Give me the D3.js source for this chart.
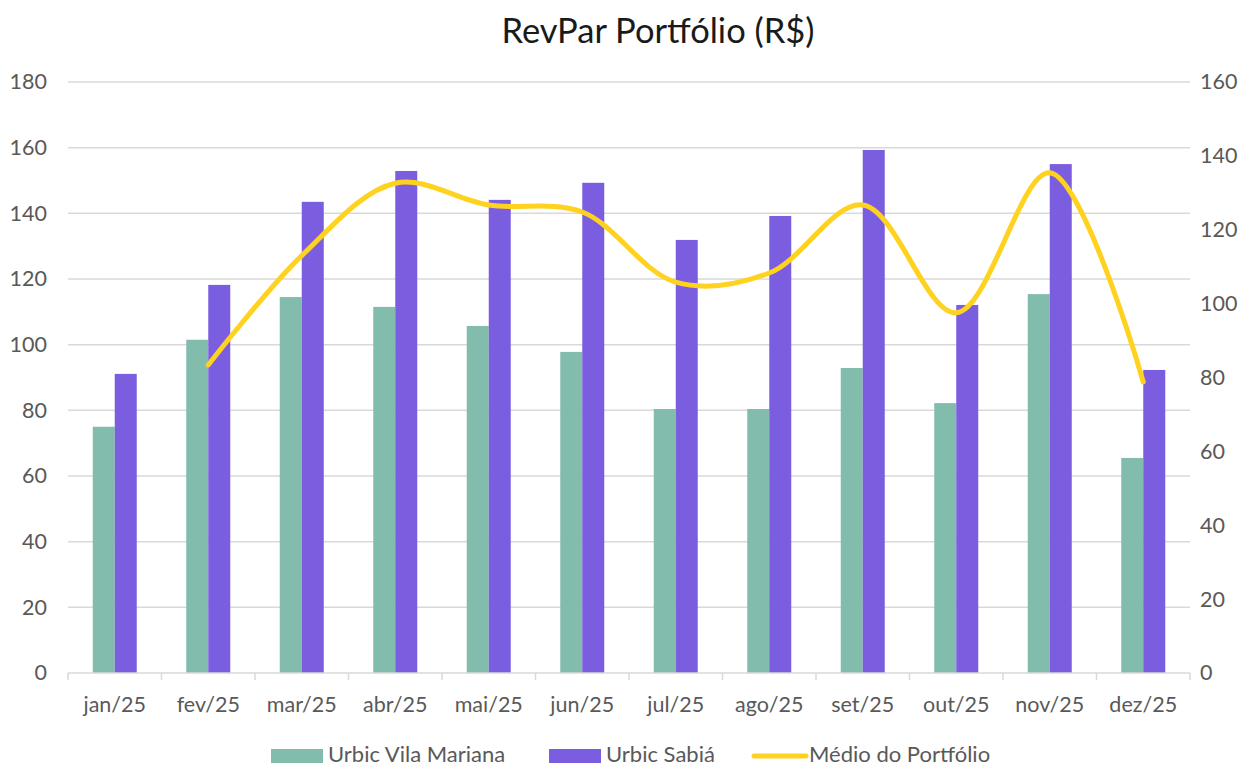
<!DOCTYPE html>
<html>
<head>
<meta charset="utf-8">
<script src="https://cdn.jsdelivr.net/npm/d3@7"></script>
<style>
  body { margin: 0; background: #fff; }
  text { font-family: Lato, "Open Sans", sans-serif; }
</style>
</head>
<body>
<svg id="chart" width="1253" height="767"></svg>
<script>
// data
const months = ["jan/25", "fev/25", "mar/25", "abr/25", "mai/25", "jun/25",
                "jul/25", "ago/25", "set/25", "out/25", "nov/25", "dez/25"];
const vilaMariana = [75, 101.5, 114.5, 111.5, 105.7, 97.8, 80.4, 80.4, 92.9, 82.2, 115.4, 65.5];
const sabia = [91.1, 118.2, 143.5, 152.9, 144.1, 149.3, 131.9, 139.2, 159.3, 112.1, 155.0, 92.3];
// portfolio average, right axis (no value for jan)
const medio = [null, 83.4, 113, 132.6, 126.7, 124.8, 105.8, 108.3, 126.7, 97.5, 135.4, 78.8];
const leftTicks = [0, 20, 40, 60, 80, 100, 120, 140, 160, 180];
const rightTicks = [0, 20, 40, 60, 80, 100, 120, 140, 160];
const seriesNames = ["Urbic Vila Mariana", "Urbic Sabiá", "Médio do Portfólio"];

const colors = { green: "#82bcad", purple: "#7b5ee0", yellow: "#ffd21f" };
const textColor = "#595959";
const gridColor = "#d9d9d9";
const labelSize = 21.5;

const svg = d3.select("#chart");
const plot = { left: 68, right: 1190, top: 82, bottom: 673 };

// scales
const x0 = d3.scaleBand()
    .domain(months)
    .range([plot.left, plot.right])
    .padding(0);

const x1 = d3.scaleBand()
    .domain(["vm", "sb"])
    .range([0, x0.bandwidth()])
    .paddingInner(0)
    .paddingOuter(1.125);

const yLeft = d3.scaleLinear().domain([0, 180]).range([plot.bottom, plot.top]);
const yRight = d3.scaleLinear().domain([0, 160]).range([plot.bottom, plot.top]);

// title
svg.append("text")
    .attr("x", 658)
    .attr("y", 43)
    .attr("text-anchor", "middle")
    .attr("font-size", 34.5)
    .attr("fill", "#1a1a1a")
    .text("RevPar Portfólio (R$)");

// gridlines
svg.append("g")
  .selectAll("line")
  .data(leftTicks.filter(d => d > 0))
  .join("line")
    .attr("x1", plot.left)
    .attr("x2", plot.right)
    .attr("y1", d => yLeft(d))
    .attr("y2", d => yLeft(d))
    .attr("stroke", gridColor)
    .attr("stroke-width", 1.5);

// left axis
const leftAxis = svg.append("g")
    .attr("transform", `translate(${plot.left},0)`)
    .call(d3.axisLeft(yLeft).tickValues(leftTicks).tickSize(0).tickPadding(21));
leftAxis.select(".domain").remove();
leftAxis.selectAll("text")
    .attr("font-size", labelSize)
    .attr("fill", textColor)
    .attr("font-family", "Lato, sans-serif");

// right axis
const rightAxis = svg.append("g")
    .attr("transform", `translate(${plot.right},0)`)
    .call(d3.axisRight(yRight).tickValues(rightTicks).tickSize(0).tickPadding(10));
rightAxis.select(".domain").remove();
rightAxis.selectAll("text")
    .attr("font-size", labelSize)
    .attr("fill", textColor)
    .attr("font-family", "Lato, sans-serif");

// bars
const groups = svg.append("g")
  .selectAll("g")
  .data(months)
  .join("g")
    .attr("transform", d => `translate(${x0(d)},0)`);

groups.append("rect")
    .attr("x", x1("vm"))
    .attr("width", x1.bandwidth())
    .attr("y", (d, i) => yLeft(vilaMariana[i]))
    .attr("height", (d, i) => yLeft(0) - yLeft(vilaMariana[i]))
    .attr("fill", colors.green);

groups.append("rect")
    .attr("x", x1("sb"))
    .attr("width", x1.bandwidth())
    .attr("y", (d, i) => yLeft(sabia[i]))
    .attr("height", (d, i) => yLeft(0) - yLeft(sabia[i]))
    .attr("fill", colors.purple);

// x axis
const xAxis = svg.append("g")
    .attr("transform", `translate(0,${plot.bottom})`);
xAxis.append("line")
    .attr("x1", plot.left)
    .attr("x2", plot.right)
    .attr("stroke", gridColor)
    .attr("stroke-width", 1.5);
xAxis.selectAll(".tick")
  .data(months.concat(["end"]))
  .join("line")
    .attr("x1", (d, i) => plot.left + i * x0.step())
    .attr("x2", (d, i) => plot.left + i * x0.step())
    .attr("y1", 0)
    .attr("y2", 7)
    .attr("stroke", gridColor)
    .attr("stroke-width", 1.5);
xAxis.selectAll("text")
  .data(months)
  .join("text")
    .attr("x", d => x0(d) + x0.bandwidth() / 2)
    .attr("y", 39)
    .attr("text-anchor", "middle")
    .attr("font-size", labelSize)
    .attr("fill", textColor)
    .text(d => d);

// portfolio line (smoothed)
const line = d3.line()
    .defined(d => d != null)
    .x((d, i) => x0(months[i]) + x0.bandwidth() / 2)
    .y(d => yRight(d))
    .curve(d3.curveCatmullRom.alpha(0.5));

svg.append("path")
    .datum(medio)
    .attr("d", line)
    .attr("fill", "none")
    .attr("stroke", colors.yellow)
    .attr("stroke-width", 5)
    .attr("stroke-linecap", "round")
    .attr("stroke-linejoin", "round");

// legend
const legend = svg.append("g").attr("transform", "translate(0,755)");
const legendItems = [
  { name: seriesNames[0], x: 271, type: "rect", color: colors.green },
  { name: seriesNames[1], x: 549, type: "rect", color: colors.purple },
  { name: seriesNames[2], x: 752, type: "line", color: colors.yellow }
];
legendItems.forEach(item => {
  if (item.type === "rect") {
    legend.append("rect")
        .attr("x", item.x)
        .attr("y", -6)
        .attr("width", 52)
        .attr("height", 14)
        .attr("fill", item.color);
  } else {
    legend.append("line")
        .attr("x1", item.x + 2)
        .attr("x2", item.x + 54)
        .attr("y1", 1)
        .attr("y2", 1)
        .attr("stroke", item.color)
        .attr("stroke-width", 5)
        .attr("stroke-linecap", "round");
  }
  legend.append("text")
      .attr("x", item.x + 57)
      .attr("y", 7)
      .attr("font-size", 22)
      .attr("fill", textColor)
      .text(item.name);
});
</script>
</body>
</html>
